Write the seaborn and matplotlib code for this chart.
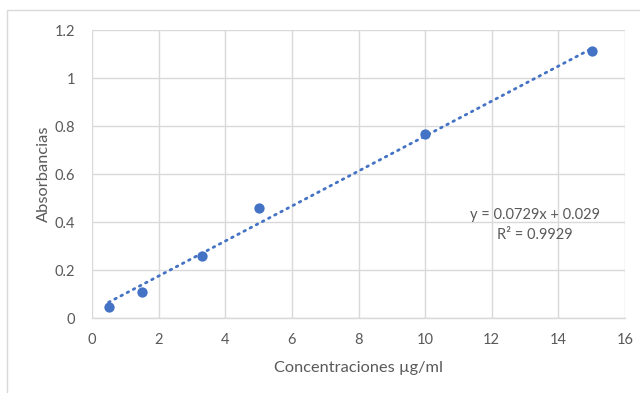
import matplotlib
matplotlib.use("Agg")
import matplotlib.pyplot as plt
import seaborn as sns
import numpy as np
import pandas as pd
from matplotlib.patches import Rectangle

conc = [0.5, 1.5, 3.3, 5.0, 10.0, 15.0]
absorb = [0.046, 0.109, 0.258, 0.458, 0.767, 1.112]
slope = 0.0729
intercept = 0.029
eq_label = "y = 0.0729x + 0.029"
r2_label = "R² = 0.9929"
x_ticks = [0, 2, 4, 6, 8, 10, 12, 14, 16]
y_ticks = [0, 0.2, 0.4, 0.6, 0.8, 1.0, 1.2]
y_tick_labels = ["0", "0.2", "0.4", "0.6", "0.8", "1", "1.2"]

sns.set_theme(style="whitegrid")
plt.rcParams['font.family'] = ['Lato', 'DejaVu Sans']

df = pd.DataFrame({"conc": conc, "abs": absorb})
blue = "#4472C4"
gray_text = "#595959"
grid_c = "#D9D9D9"

fig = plt.figure(figsize=(6.4, 3.93), dpi=100)
ax = fig.add_axes([92/640, 1-318/393, (625-92)/640, (318-30)/393])

# outer chart border
fig.patches.append(Rectangle((7/640, -0.05), 1.0, 1-10/393+0.05, transform=fig.transFigure,
                             fill=False, edgecolor="#D9D9D9", linewidth=1.0))

xs = np.array([conc[0], conc[-1]])
ax.plot(xs, slope*xs + intercept, linestyle=(0, (0.6, 1.9)), color=blue, linewidth=2.0,
        dash_capstyle="round", zorder=2)
sns.scatterplot(data=df, x="conc", y="abs", ax=ax, color=blue, s=55, edgecolor=blue,
                linewidth=0, zorder=3)

ax.set_xlim(0, 16)
ax.set_ylim(0, 1.2)
ax.set_xticks(x_ticks)
ax.set_xticklabels([str(t) for t in x_ticks])
ax.set_yticks(y_ticks)
ax.set_yticklabels(y_tick_labels)
ax.grid(True, color=grid_c, linewidth=1.0)
ax.set_facecolor("white")
for s in ["top", "right", "left"]:
    ax.spines[s].set_visible(False)
ax.spines["bottom"].set_color(grid_c)
ax.spines["bottom"].set_linewidth(1.0)
ax.tick_params(axis="both", colors=gray_text, labelsize=10.5, length=0)
ax.tick_params(axis="x", pad=11)
ax.tick_params(axis="y", pad=12)
ax.set_xlabel("Concentraciones µg/ml", color=gray_text, fontsize=11.8, labelpad=10)
ax.set_ylabel("Absorbancias", color=gray_text, fontsize=11.8, labelpad=3)

ax.text(13.3, 0.43, eq_label, ha="center", va="center", color=gray_text, fontsize=10.5)
ax.text(13.3, 0.345, r2_label, ha="center", va="center", color=gray_text, fontsize=10.5)

fig.savefig("out.png", dpi=100, facecolor="white")
